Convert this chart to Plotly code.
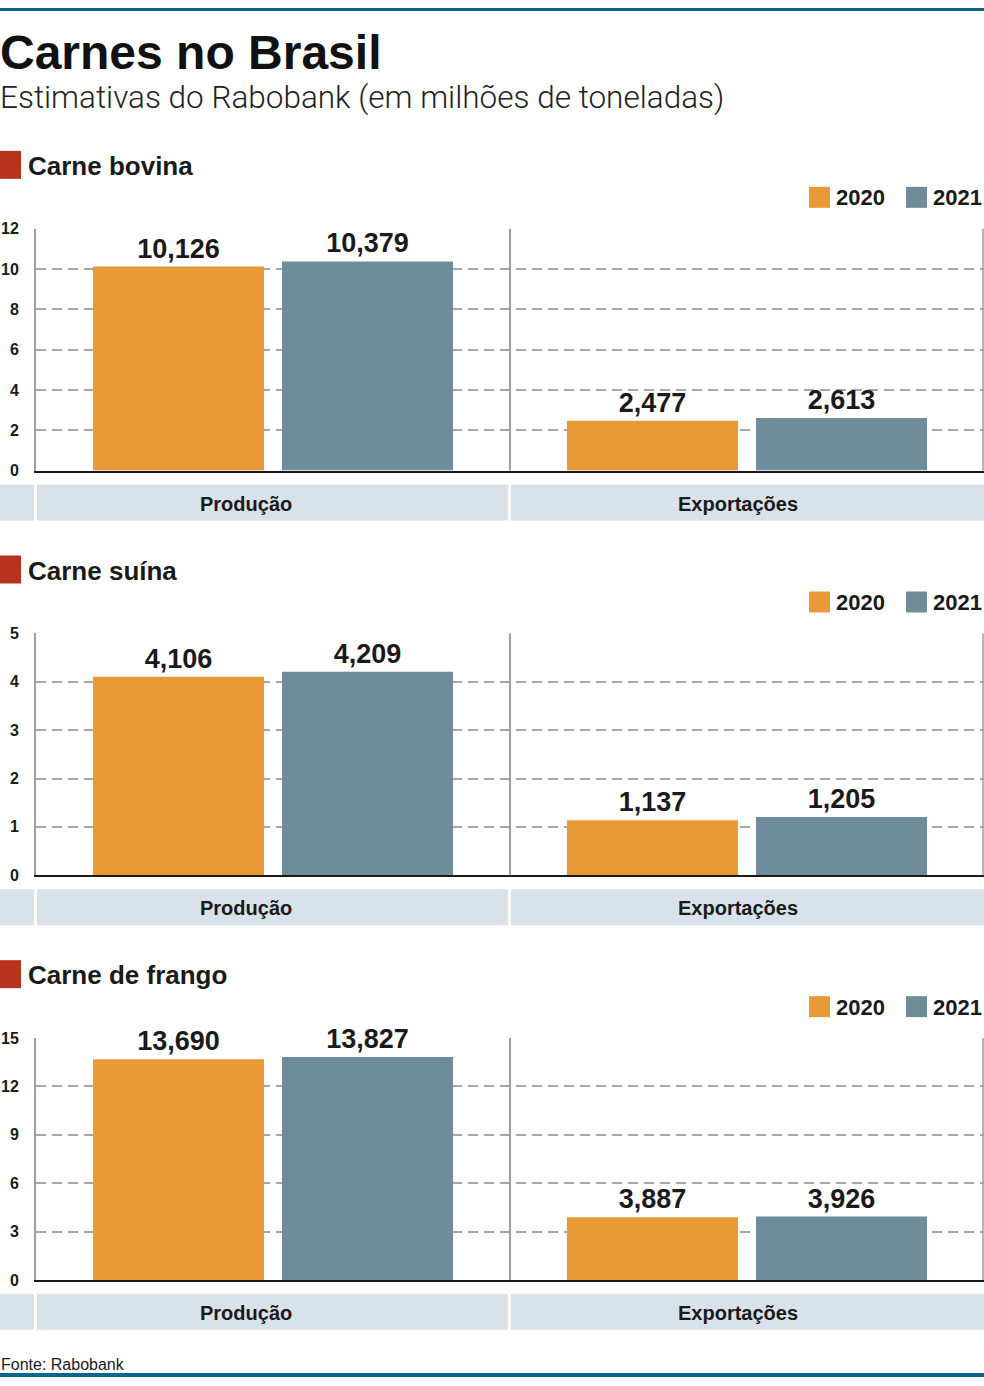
import plotly.graph_objects as go

# ---------------- data ----------------
categories = ["Produção", "Exportações"]
years = ["2020", "2021"]
section_titles = ["Carne bovina", "Carne suína", "Carne de frango"]
bovina_2020 = [10.126, 2.477]
bovina_2021 = [10.379, 2.613]
suina_2020 = [4.106, 1.137]
suina_2021 = [4.209, 1.205]
frango_2020 = [13.690, 3.887]
frango_2021 = [13.827, 3.926]
y_max = [12, 5, 15]
y_step = [2, 1, 3]

title = "Carnes no Brasil"
subtitle = "Estimativas do Rabobank (em milhões de toneladas)"
source = "Fonte: Rabobank"

# ---------------- style ----------------
W, H = 984, 1386
ORANGE = "#e89a37"
BLUE = "#6e8c9a"
RED = "#b83220"
NAVY = "#0b6591"
BAND = "#d9e2ea"
GRID = "#a6a6a6"
INK = "#1a1a1a"
SANS = "Liberation Sans, Arial, sans-serif"
REG = "Roboto, Liberation Sans, sans-serif"
VS = 0.98859  # vertical compensation of the capture
VO = 8


def px(x):
    return x / W


def py(y):
    f = (y - VO) / VS
    f = min(max(f, 0), H)
    return 1 - f / H


series = [(bovina_2020, bovina_2021), (suina_2020, suina_2021), (frango_2020, frango_2021)]
offsets = [0, 405, 810]

fig = go.Figure()
shapes = []
annotations = []
cat_centers = [246, 738]

for i, (s20, s21) in enumerate(series):
    off = offsets[i]
    xa = "x" if i == 0 else f"x{i + 1}"
    ya = "y" if i == 0 else f"y{i + 1}"
    for vals, yr, col in ((s20, years[0], ORANGE), (s21, years[1], BLUE)):
        fig.add_trace(go.Bar(
            x=categories, y=vals, name=yr, marker=dict(color=col, line=dict(width=0)),
            xaxis=xa, yaxis=ya, texttemplate="%{y:.3f}", textposition="outside",
            constraintext="none", cliponaxis=False, showlegend=False,
            textfont=dict(family=SANS, size=27, color=INK, weight="bold"),
            hovertemplate="%{x} " + yr + ": %{y:.3f}<extra></extra>",
        ))
    top, zero = 229 + off, 471 + off
    xkey = "xaxis" if i == 0 else f"xaxis{i + 1}"
    ykey = "yaxis" if i == 0 else f"yaxis{i + 1}"
    fig.update_layout({
        xkey: dict(domain=[px(36), 1], anchor=ya, range=[-0.5, 1.5], showticklabels=False,
                   showgrid=False, zeroline=False, showline=True, linecolor=INK, linewidth=2,
                   ticks="", fixedrange=True),
        ykey: dict(domain=[py(zero), py(top)], anchor=xa, range=[0, y_max[i]], dtick=y_step[i],
                   tick0=0, showgrid=True, gridcolor=GRID, gridwidth=1.5, griddash="10px,6px",
                   zeroline=False, showline=True, linecolor="#9e9e9e", linewidth=2, ticks="",
                   ticklabelstandoff=12, fixedrange=True,
                   tickfont=dict(family=SANS, size=16, color=INK, weight="bold")),
    })
    # divider between categories and right border
    shapes.append(dict(type="line", xref=xa, yref=f"{ya} domain", x0=0.5, x1=0.5, y0=0, y1=1,
                       line=dict(color="#9e9e9e", width=2), layer="above"))
    shapes.append(dict(type="line", xref="paper", yref=f"{ya} domain", x0=px(983), x1=px(983), y0=0, y1=1,
                       line=dict(color="#9e9e9e", width=1.5), layer="above"))
    # category band
    for x0, x1 in ((0, 34), (37, 508), (511, 984)):
        shapes.append(dict(type="rect", xref="paper", yref="paper", x0=px(x0), x1=px(x1),
                           y0=py(521 + off), y1=py(485 + off), fillcolor=BAND, line=dict(width=0),
                           layer="below"))
    for c, cx in zip(categories, cat_centers):
        annotations.append(dict(xref="paper", yref="paper", x=px(cx), y=py(504 + off), text=c,
                                showarrow=False, xanchor="center", yanchor="middle",
                                font=dict(family=SANS, size=20, color=INK, weight="bold")))
    # section title
    shapes.append(dict(type="rect", xref="paper", yref="paper", x0=0, x1=px(21),
                       y0=py(179 + off), y1=py(151 + off), fillcolor=RED, line=dict(width=0)))
    annotations.append(dict(xref="paper", yref="paper", x=px(26), y=py(166 + off), text=section_titles[i],
                            showarrow=False, xanchor="left", yanchor="middle",
                            font=dict(family=SANS, size=26, color=INK, weight="bold")))
    # legend
    for (sx0, sx1, tx), yr, col in (((809, 830, 834), years[0], ORANGE), ((906, 927, 931), years[1], BLUE)):
        shapes.append(dict(type="rect", xref="paper", yref="paper", x0=px(sx0), x1=px(sx1),
                           y0=py(208 + off), y1=py(187 + off), fillcolor=col, line=dict(width=0)))
        annotations.append(dict(xref="paper", yref="paper", x=px(tx), y=py(198 + off), text=yr,
                                showarrow=False, xanchor="left", yanchor="middle",
                                font=dict(family=SANS, size=22, color=INK, weight="bold")))

# header / footer
shapes.append(dict(type="rect", xref="paper", yref="paper", x0=0, x1=1, y0=1 - 3 / H, y1=1,
                   fillcolor=NAVY, line=dict(width=0)))
shapes.append(dict(type="rect", xref="paper", yref="paper", x0=0, x1=1, y0=0, y1=4 / H,
                   fillcolor=NAVY, line=dict(width=0)))
annotations.append(dict(xref="paper", yref="paper", x=px(-2), y=py(53), text=title, showarrow=False,
                        xanchor="left", yanchor="middle",
                        font=dict(family=SANS, size=48, color="#111", weight="bold")))
annotations.append(dict(xref="paper", yref="paper", x=px(-2), y=py(98), text=subtitle, showarrow=False,
                        xanchor="left", yanchor="middle",
                        font=dict(family=REG, size=31.5, color="#222", weight=300)))
annotations.append(dict(xref="paper", yref="paper", x=px(-1), y=py(1366), text=source, showarrow=False,
                        xanchor="left", yanchor="middle",
                        font=dict(family=SANS, size=16, color=INK)))

fig.update_layout(
    width=W, height=H, autosize=False, margin=dict(l=0, r=0, t=0, b=0),
    paper_bgcolor="white", plot_bgcolor="white", barmode="group",
    bargap=0.2025, bargroupgap=0.095, separators=",.", showlegend=False,
    shapes=shapes, annotations=annotations,
)

fig.write_html(
    "out.html",
    config={"displayModeBar": False},
    post_script=(
        "document.documentElement.style.margin='0';"
        "document.body.style.margin='0';document.body.style.padding='0';"
        "document.body.style.overflow='hidden';"
        "var g=document.getElementById('{plot_id}');"
        "g.style.position='fixed';g.style.top='0';g.style.left='0';"
    ),
)
